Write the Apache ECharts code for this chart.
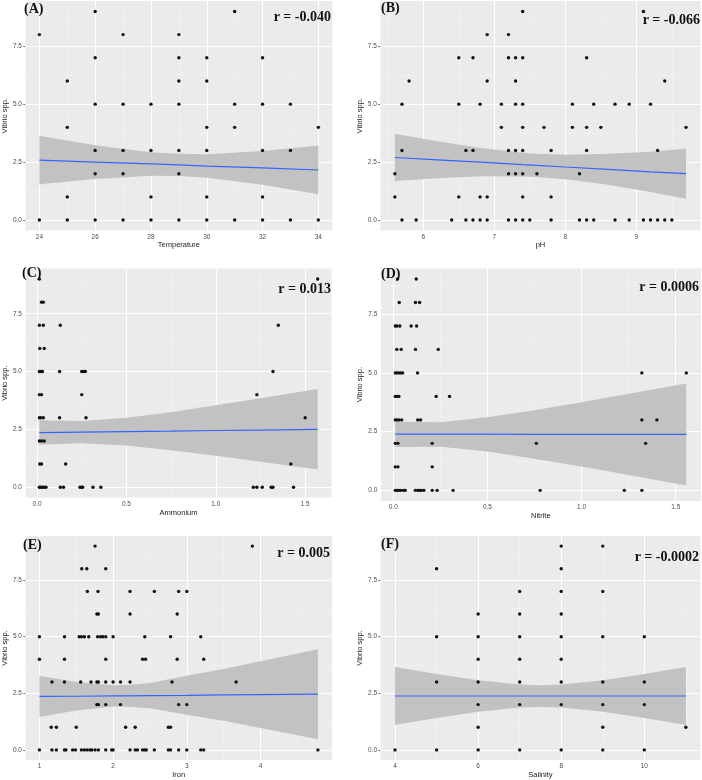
<!DOCTYPE html>
<html>
<head>
<meta charset="utf-8">
<script src="https://cdn.jsdelivr.net/npm/echarts@6/dist/echarts.min.js"></script>
<style>
html,body{margin:0;padding:0;background:#fff;}
#chart{width:702px;height:780px;}
</style>
</head>
<body>
<div id="chart"></div>
<script>
// ---------------- DATA ----------------
const yTicks = [0, 2.5, 5, 7.5];
const yMinor = [1.25, 3.75, 6.25, 8.75];
const yLabel = 'Vibrio spp.';

// (A) Temperature
const tempPoints = [[24,8],[24,0],[25,6],[25,4],[25,1],[25,0],[26,9],[26,7],[26,5],[26,3],[26,2],[26,0],
  [27,8],[27,5],[27,3],[27,2],[27,0],[28,5],[28,3],[28,1],[28,0],[29,8],[29,7],[29,6],[29,5],[29,3],[29,2],[29,0],
  [30,7],[30,6],[30,4],[30,3],[30,1],[30,0],[31,9],[31,5],[31,4],[31,0],[32,7],[32,5],[32,3],[32,1],[32,0],
  [33,5],[33,3],[33,0],[34,4],[34,0]];
const tempTicks = [24, 26, 28, 30, 32, 34];
const tempMinor = [25, 27, 29, 31, 33];
const tempFitX = [24, 26, 28, 29, 30, 32, 34];
const tempFit = [2.59, 2.50, 2.42, 2.38, 2.33, 2.25, 2.16];
const tempUpper = [3.64, 3.23, 2.93, 2.86, 2.84, 2.98, 3.22];
const tempLower = [1.55, 1.77, 1.91, 1.90, 1.83, 1.52, 1.11];

// (B) pH
const phPoints = [[5.6,2],[5.6,1],[5.7,3],[5.7,5],[5.7,0],[5.8,6],[5.9,0],[6.4,0],[6.5,7],[6.5,5],[6.5,1],
  [6.6,3],[6.6,0],[6.7,7],[6.7,3],[6.7,0],[6.8,5],[6.8,1],[6.8,0],[6.9,8],[6.9,6],[6.9,1],[6.9,0],[7.1,5],[7.1,4],
  [7.2,8],[7.2,7],[7.2,3],[7.2,2],[7.2,0],[7.3,7],[7.3,6],[7.3,5],[7.3,3],[7.3,2],[7.3,0],
  [7.4,9],[7.4,7],[7.4,5],[7.4,4],[7.4,3],[7.4,2],[7.4,1],[7.4,0],[7.5,0],[7.6,2],[7.7,4],[7.8,3],[7.8,1],[7.8,0],
  [8.1,5],[8.1,4],[8.2,2],[8.2,0],[8.3,7],[8.3,4],[8.3,3],[8.3,0],[8.4,5],[8.4,0],[8.5,4],[8.7,5],[8.7,0],
  [8.9,5],[8.9,0],[9.1,9],[9.1,0],[9.2,5],[9.2,0],[9.3,3],[9.3,0],[9.4,6],[9.4,0],[9.5,0],[9.7,4]];
const phTicks = [6, 7, 8, 9];
const phMinor = [5.5, 6.5, 7.5, 8.5, 9.5];
const phFitX = [5.6, 6.2, 6.8, 7.4, 7.6, 8.0, 8.6, 9.2, 9.7];
const phFit = [2.70, 2.60, 2.50, 2.39, 2.36, 2.29, 2.19, 2.08, 2.00];
const phUpper = [3.72, 3.40, 3.11, 2.90, 2.86, 2.82, 2.86, 2.95, 3.08];
const phLower = [1.68, 1.80, 1.89, 1.88, 1.86, 1.76, 1.52, 1.21, 0.92];

// (C) Ammonium
const ammPoints = [[0.013,9],[1.57,9],[0.025,8],[0.035,8],[0.013,7],[0.035,7],[0.13,7],[1.35,7],[0.015,6],[0.04,6],
  [0.013,5],[0.02,5],[0.03,5],[0.126,5],[0.25,5],[0.26,5],[0.27,5],[1.32,5],
  [0.013,4],[0.025,4],[0.25,4],[1.23,4],[0.013,3],[0.02,3],[0.035,3],[0.126,3],[0.274,3],[1.50,3],
  [0.013,2],[0.025,2],[0.04,2],[0.015,1],[0.025,1],[0.16,1],[1.42,1],
  [0.013,0],[0.02,0],[0.03,0],[0.04,0],[0.05,0],[0.13,0],[0.148,0],[0.24,0],[0.25,0],[0.255,0],[0.313,0],[0.357,0],
  [1.21,0],[1.23,0],[1.26,0],[1.31,0],[1.32,0],[1.435,0]];
const ammTicks = [0, 0.5, 1.0, 1.5];
const ammMinor = [0.25, 0.75, 1.25];
const ammFitX = [0.013, 0.25, 0.5, 0.75, 1.0, 1.25, 1.57];
const ammFit = [2.36, 2.38, 2.40, 2.42, 2.45, 2.47, 2.50];
const ammUpper = [2.89, 2.86, 3.00, 3.24, 3.54, 3.84, 4.24];
const ammLower = [1.83, 1.90, 1.80, 1.60, 1.36, 1.10, 0.76];

// (D) Nitrite
const nitPoints = [[0.023,9],[0.122,9],[0.032,8],[0.118,8],[0.14,8],[0.011,7],[0.02,7],[0.035,7],[0.095,7],[0.124,7],
  [0.019,6],[0.042,6],[0.118,6],[0.239,6],[0.011,5],[0.02,5],[0.03,5],[0.04,5],[0.05,5],[0.129,5],[1.32,5],[1.556,5],
  [0.011,4],[0.02,4],[0.03,4],[0.228,4],[0.299,4],[0.011,3],[0.02,3],[0.03,3],[0.045,3],[0.13,3],[0.145,3],[1.32,3],[1.40,3],
  [0.011,2],[0.025,2],[0.207,2],[0.76,2],[1.34,2],[0.011,1],[0.025,1],[0.207,1],
  [0.011,0],[0.02,0],[0.03,0],[0.04,0],[0.055,0],[0.064,0],[0.117,0],[0.13,0],[0.14,0],[0.15,0],[0.163,0],[0.207,0],
  [0.233,0],[0.318,0],[0.78,0],[1.227,0],[1.32,0]];
const nitTicks = [0, 0.5, 1.0, 1.5];
const nitMinor = [0.25, 0.75, 1.25];
const nitFitX = [0.011, 0.25, 0.5, 0.75, 1.0, 1.25, 1.556];
const nitFit = [2.39, 2.39, 2.39, 2.38, 2.38, 2.38, 2.38];
const nitUpper = [2.92, 2.90, 3.11, 3.41, 3.75, 4.11, 4.55];
const nitLower = [1.84, 1.86, 1.65, 1.35, 1.01, 0.65, 0.21];

// (E) Iron
const ironPoints = [[1.755,9],[3.89,9],[1.575,8],[1.643,8],[1.90,8],
  [1.65,7],[1.795,7],[2.23,7],[2.56,7],[2.89,7],[3.0,7],[1.78,6],[1.80,6],[2.23,6],[2.87,6],
  [1.0,5],[1.34,5],[1.54,5],[1.57,5],[1.61,5],[1.67,5],[1.79,5],[1.83,5],[1.86,5],[1.90,5],[2.0,5],[2.43,5],[2.78,5],[3.19,5],
  [1.0,4],[1.34,4],[1.90,4],[2.40,4],[2.44,4],[2.87,4],[3.23,4],
  [1.17,3],[1.34,3],[1.56,3],[1.70,3],[1.78,3],[1.80,3],[1.90,3],[2.0,3],[2.10,3],[2.23,3],[2.80,3],[3.67,3],
  [1.78,2],[1.80,2],[1.90,2],[2.10,2],[2.89,2],[3.0,2],
  [1.16,1],[1.23,1],[1.50,1],[2.17,1],[2.30,1],[2.75,1],[2.78,1],
  [1.0,0],[1.17,0],[1.23,0],[1.34,0],[1.36,0],[1.45,0],[1.49,0],[1.57,0],[1.61,0],[1.65,0],[1.69,0],[1.71,0],[1.755,0],
  [1.80,0],[1.90,0],[1.98,0],[2.0,0],[2.23,0],[2.30,0],[2.33,0],[2.40,0],[2.43,0],[2.45,0],[2.56,0],[2.75,0],[2.78,0],
  [2.89,0],[3.0,0],[3.19,0],[3.23,0],[4.78,0]];
const ironTicks = [1, 2, 3, 4];
const ironMinor = [1.5, 2.5, 3.5, 4.5];
const ironFitX = [1.0, 1.5, 2.0, 2.2, 2.5, 3.0, 3.5, 4.0, 4.78];
const ironFit = [2.36, 2.37, 2.39, 2.39, 2.40, 2.41, 2.43, 2.44, 2.46];
const ironUpper = [3.27, 3.00, 2.86, 2.87, 2.96, 3.27, 3.57, 3.91, 4.45];
const ironLower = [1.45, 1.74, 1.92, 1.91, 1.84, 1.55, 1.29, 0.97, 0.47];

// (F) Salinity
const salPoints = [[4,0],[5,8],[5,5],[5,3],[5,0],[6,6],[6,5],[6,4],[6,3],[6,2],[6,1],[6,0],
  [7,7],[7,6],[7,5],[7,4],[7,3],[7,2],[7,0],[8,9],[8,8],[8,7],[8,6],[8,5],[8,4],[8,3],[8,2],[8,0],
  [9,9],[9,7],[9,5],[9,3],[9,2],[9,1],[9,0],[10,5],[10,3],[10,2],[10,0],[11,1]];
const salTicks = [4, 6, 8, 10];
const salMinor = [5, 7, 9, 11];
const salFitX = [4, 5, 6, 7, 7.5, 8, 9, 10, 11];
const salFit = [2.38, 2.38, 2.38, 2.38, 2.38, 2.38, 2.38, 2.38, 2.38];
const salUpper = [3.66, 3.35, 3.08, 2.89, 2.86, 2.89, 3.08, 3.35, 3.66];
const salLower = [1.10, 1.41, 1.68, 1.87, 1.90, 1.87, 1.68, 1.41, 1.10];

const panelTags = ['(A)', '(B)', '(C)', '(D)', '(E)', '(F)'];
const rLabels = ['r = -0.040', 'r = -0.066', 'r = 0.013', 'r = 0.0006', 'r = 0.005', 'r = -0.0002'];
const xNames = ['Temperature', 'pH', 'Ammonium', 'Nitrite', 'Iron', 'Salinity'];

// ---------------- LAYOUT ----------------
const panels = [
  { pts: tempPoints, ticks: tempTicks, minor: tempMinor, fx: tempFitX, fit: tempFit, up: tempUpper, lo: tempLower,
    xmin: 23.5, xmax: 34.5, dec: 0, grid: { left: 23.7, top: 1, width: 308.6, height: 229.5 } },
  { pts: phPoints, ticks: phTicks, minor: phMinor, fx: phFitX, fit: phFit, up: phUpper, lo: phLower,
    xmin: 5.395, xmax: 9.905, dec: 0, grid: { left: 380.3, top: 1, width: 320.3, height: 229.5 } },
  { pts: ammPoints, ticks: ammTicks, minor: ammMinor, fx: ammFitX, fit: ammFit, up: ammUpper, lo: ammLower,
    xmin: -0.065, xmax: 1.648, dec: 1, grid: { left: 23, top: 268.6, width: 308.6, height: 229 } },
  { pts: nitPoints, ticks: nitTicks, minor: nitMinor, fx: nitFitX, fit: nitFit, up: nitUpper, lo: nitLower,
    xmin: -0.066, xmax: 1.633, dec: 1, grid: { left: 380.8, top: 268.4, width: 320, height: 232.5 } },
  { pts: ironPoints, ticks: ironTicks, minor: ironMinor, fx: ironFitX, fit: ironFit, up: ironUpper, lo: ironLower,
    xmin: 0.81, xmax: 4.97, dec: 0, grid: { left: 23.6, top: 535.9, width: 308.3, height: 228.8 } },
  { pts: salPoints, ticks: salTicks, minor: salMinor, fx: salFitX, fit: salFit, up: salUpper, lo: salLower,
    xmin: 3.65, xmax: 11.35, dec: 0, grid: { left: 380.5, top: 535.9, width: 319.9, height: 228.8 } }
];

const BG = '#EBEBEB', RIBBON = '#C2C2C2', LINE = '#3366FF';
const sans = 'Liberation Sans, Arial, sans-serif';
const serif = 'Liberation Serif, Times New Roman, serif';

const grids = [], xAxes = [], yAxes = [], series = [], graphics = [];

panels.forEach((p, k) => {
  grids.push(Object.assign({ show: true, backgroundColor: BG, borderWidth: 0, containLabel: false }, p.grid));
  xAxes.push({
    type: 'value', gridIndex: k, min: p.xmin, max: p.xmax, position: 'bottom',
    axisLine: { show: false },
    axisTick: { show: true, length: 2.2, customValues: p.ticks, lineStyle: { color: '#333', width: 0.7 } },
    axisLabel: { customValues: p.ticks, formatter: v => Number(v).toFixed(p.dec), fontSize: 6.5, color: '#4D4D4D', margin: 3, fontFamily: sans },
    splitLine: { show: false },
    name: xNames[k], nameLocation: 'middle', nameGap: 6.5,
    nameTextStyle: { fontSize: 7.5, color: '#222', fontFamily: sans }
  });
  yAxes.push({
    type: 'value', gridIndex: k, min: -0.45, max: 9.45, position: 'left',
    axisLine: { show: false },
    axisTick: { show: true, length: 2.2, customValues: yTicks, lineStyle: { color: '#333', width: 0.7 } },
    axisLabel: { customValues: yTicks, formatter: v => Number(v).toFixed(1), fontSize: 6.5, color: '#4D4D4D', margin: 3.5, fontFamily: sans },
    splitLine: { show: false },
    name: yLabel, nameLocation: 'middle', nameGap: 14,
    nameTextStyle: { fontSize: 7.5, color: '#222', fontFamily: sans }
  });

  // panel grid lines (minor thin, major white) as mark lines on the panel scales, kept beneath the marks
  const minorStyle = { color: '#F4F4F4', width: 0.6, type: 'solid' };
  const majorStyle = { color: '#FFFFFF', width: 1.1, type: 'solid' };
  const gridLines = []
    .concat(p.minor.map(v => ({ xAxis: v, lineStyle: minorStyle })))
    .concat(yMinor.map(v => ({ yAxis: v, lineStyle: minorStyle })))
    .concat(p.ticks.map(v => ({ xAxis: v, lineStyle: majorStyle })))
    .concat(yTicks.map(v => ({ yAxis: v, lineStyle: majorStyle })));
  series.push({
    type: 'line', xAxisIndex: k, yAxisIndex: k, data: [], z: 1, silent: true,
    markLine: { silent: true, z: 1, zlevel: 0, symbol: ['none', 'none'], label: { show: false }, animation: false,
      emphasis: { disabled: true }, data: gridLines }
  });

  const fx = p.fx, up = p.up, lo = p.lo;
  series.push({
    type: 'custom', xAxisIndex: k, yAxisIndex: k, silent: true, z: 3,
    data: fx.map((x, i) => [x, lo[i], up[i]]),
    encode: { x: 0, y: [1, 2] },
    renderItem: (params, api) => {
      if (params.dataIndex !== 0) return { type: 'group', children: [] };
      const poly = [];
      for (let i = 0; i < fx.length; i++) poly.push(api.coord([fx[i], up[i]]));
      for (let i = fx.length - 1; i >= 0; i--) poly.push(api.coord([fx[i], lo[i]]));
      return { type: 'polygon', shape: { points: poly }, style: { fill: RIBBON } };
    }
  });
  series.push({
    type: 'scatter', xAxisIndex: k, yAxisIndex: k, data: p.pts, z: 4,
    symbol: 'circle', symbolSize: 3.4, itemStyle: { color: '#111', opacity: 1 }, silent: true
  });
  series.push({
    type: 'line', xAxisIndex: k, yAxisIndex: k, data: fx.map((x, i) => [x, p.fit[i]]), z: 5,
    showSymbol: false, symbol: 'none', lineStyle: { color: LINE, width: 1.2 }, silent: true
  });
});

// panel tags and correlation labels
const tagPos = [[24, 9], [381, 8], [22, 273], [381, 274], [23, 545], [381, 544]];
const rPos = [[331, 17], [700, 20], [331, 289], [699, 287], [330, 553], [699, 557]];
panelTags.forEach((t, k) => {
  graphics.push({ type: 'text', x: tagPos[k][0], y: tagPos[k][1], z: 100,
    style: { text: t, font: 'bold 14px ' + serif, fill: '#111', align: 'left', verticalAlign: 'middle' } });
});
rLabels.forEach((t, k) => {
  graphics.push({ type: 'text', x: rPos[k][0], y: rPos[k][1], z: 100,
    style: { text: t, font: 'bold 14px ' + serif, fill: '#111', align: 'right', verticalAlign: 'middle' } });
});

const chart = echarts.init(document.getElementById('chart'), null, { renderer: 'canvas' });
chart.setOption({
  animation: false,
  backgroundColor: '#FFFFFF',
  grid: grids, xAxis: xAxes, yAxis: yAxes, series: series, graphic: graphics
});
</script>
</body>
</html>
